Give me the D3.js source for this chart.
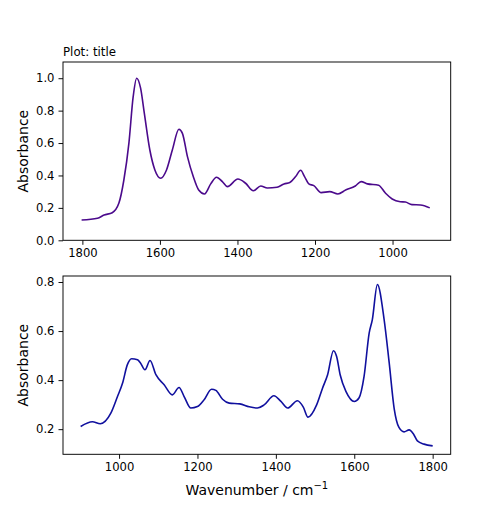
<!DOCTYPE html>
<meta charset="utf-8">

<script src="https://d3js.org/d3.v7.min.js"></script>

<style type="text/css">
  body { margin: 0; background: #fff; }
  text { font-family: "DejaVu Sans", sans-serif; fill: #000; }
  .axis text { font-size: 11.6px; }
  .axis path, .axis line { stroke: #000; stroke-width: 0.95; }
  .label { font-size: 14px; }
</style>

<body>
</body>

<script>

  // top spectrum (x axis reversed)
  let topWavenumber = [1802, 1761, 1744, 1723, 1706, 1693, 1680, 1669, 1660, 1650, 1640, 1626, 1613, 1598,
    1583, 1568, 1551, 1542, 1529, 1514, 1500, 1485, 1469, 1454, 1439, 1426, 1399, 1379, 1359, 1340,
    1323, 1298, 1280, 1265, 1250, 1237, 1227, 1216, 1203, 1184, 1162, 1141, 1121, 1096, 1081, 1065,
    1036, 1018, 1001, 980, 967, 950, 928, 904];
  let topAbsorbance = [0.125, 0.136, 0.156, 0.170, 0.228, 0.372, 0.600, 0.886, 1.000, 0.940, 0.780, 0.557, 0.434, 0.383,
    0.434, 0.557, 0.685, 0.660, 0.516, 0.393, 0.310, 0.286, 0.348, 0.389, 0.362, 0.331, 0.378, 0.352, 0.306, 0.335,
    0.323, 0.327, 0.348, 0.356, 0.393, 0.432, 0.393, 0.348, 0.337, 0.294, 0.300, 0.286, 0.310, 0.335, 0.362, 0.348,
    0.340, 0.290, 0.255, 0.238, 0.236, 0.220, 0.218, 0.200];

  // bottom spectrum
  let bottomWavenumber = [902, 932, 952, 979, 996, 1009, 1021, 1032, 1047, 1055, 1066, 1079, 1094, 1115,
    1136, 1153, 1166, 1183, 1200, 1217, 1236, 1247, 1264, 1281, 1308, 1332, 1353, 1370, 1395, 1413,
    1430, 1455, 1470, 1482, 1504, 1519, 1532, 1547, 1555, 1564, 1579, 1600, 1612, 1625, 1638, 1646,
    1659, 1676, 1689, 1702, 1714, 1727, 1740, 1751, 1761, 1778, 1800];
  let bottomAbsorbance = [0.211, 0.230, 0.222, 0.265, 0.333, 0.388, 0.462, 0.487, 0.483, 0.469, 0.442, 0.480, 0.422, 0.381,
    0.340, 0.370, 0.333, 0.286, 0.292, 0.320, 0.363, 0.358, 0.322, 0.306, 0.303, 0.291, 0.286, 0.299, 0.336, 0.313,
    0.286, 0.316, 0.290, 0.249, 0.299, 0.367, 0.422, 0.520, 0.496, 0.422, 0.353, 0.313, 0.327, 0.415, 0.592, 0.646,
    0.790, 0.649, 0.472, 0.282, 0.207, 0.189, 0.197, 0.180, 0.152, 0.139, 0.132];

  let topXTicks = [1800, 1600, 1400, 1200, 1000];
  let topYTicks = [0.0, 0.2, 0.4, 0.6, 0.8, 1.0];
  let bottomXTicks = [1000, 1200, 1400, 1600, 1800];
  let bottomYTicks = [0.2, 0.4, 0.6, 0.8];

  let W = 500, H = 511;
  let left = 63, right = 450.7;

  let svg = d3.select("body").append("svg")
    .attr("width", W)
    .attr("height", H);

  function panel(opts) {
    let xScale = d3.scaleLinear().domain(opts.xDomain).range([left, right]);
    let yScale = d3.scaleLinear().domain(opts.yDomain).range([opts.bottom, opts.top]);

    let g = svg.append('g');

    let line = d3.line()
      .x(d => xScale(d[0]))
      .y(d => yScale(d[1]))
      .curve(d3.curveMonotoneX);

    g.append('path')
      .datum(d3.zip(opts.xs, opts.ys))
      .attr('d', line)
      .attr('fill', 'none')
      .attr('stroke', opts.color)
      .attr('stroke-width', 1.6)
      .attr('stroke-linejoin', 'round');

    // frame
    g.append('rect')
      .attr('x', left).attr('y', opts.top)
      .attr('width', right - left).attr('height', opts.bottom - opts.top)
      .attr('fill', 'none').attr('stroke', '#000').attr('stroke-width', 0.95);

    g.append('g')
      .attr('class', 'axis')
      .attr('transform', `translate(0, ${opts.bottom})`)
      .call(d3.axisBottom(xScale).tickValues(opts.xTicks).tickSize(4.5).tickPadding(3.5).tickSizeOuter(0).tickFormat(d3.format('d')));

    g.append('g')
      .attr('class', 'axis')
      .attr('transform', `translate(${left}, 0)`)
      .call(d3.axisLeft(yScale).tickValues(opts.yTicks).tickSize(4.5).tickPadding(4).tickSizeOuter(0).tickFormat(d3.format('.1f')));

    g.selectAll('.axis .domain').remove();

    g.append('text')
      .attr('class', 'label')
      .attr('transform', `translate(28, ${(opts.top + opts.bottom) / 2}) rotate(-90)`)
      .attr('text-anchor', 'middle')
      .text('Absorbance');
  }

  panel({
    xs: topWavenumber, ys: topAbsorbance, color: '#4b0a8c',
    xDomain: [1850, 850], yDomain: [0, 1.1],
    top: 62, bottom: 240.3,
    xTicks: topXTicks, yTicks: topYTicks
  });

  panel({
    xs: bottomWavenumber, ys: bottomAbsorbance, color: '#10109e',
    xDomain: [857, 1846], yDomain: [0.0975, 0.8245],
    top: 276, bottom: 454.3,
    xTicks: bottomXTicks, yTicks: bottomYTicks
  });

  svg.append('text')
    .attr('x', left)
    .attr('y', 56)
    .style('font-size', '11.8px')
    .text('Plot: title');

  let xl = svg.append('text')
    .attr('class', 'label')
    .attr('x', (left + right) / 2)
    .attr('y', 495)
    .attr('text-anchor', 'middle')
    .text('Wavenumber / cm');
  xl.append('tspan')
    .attr('dy', -6)
    .style('font-size', '10px')
    .text('\u22121');

</script>
